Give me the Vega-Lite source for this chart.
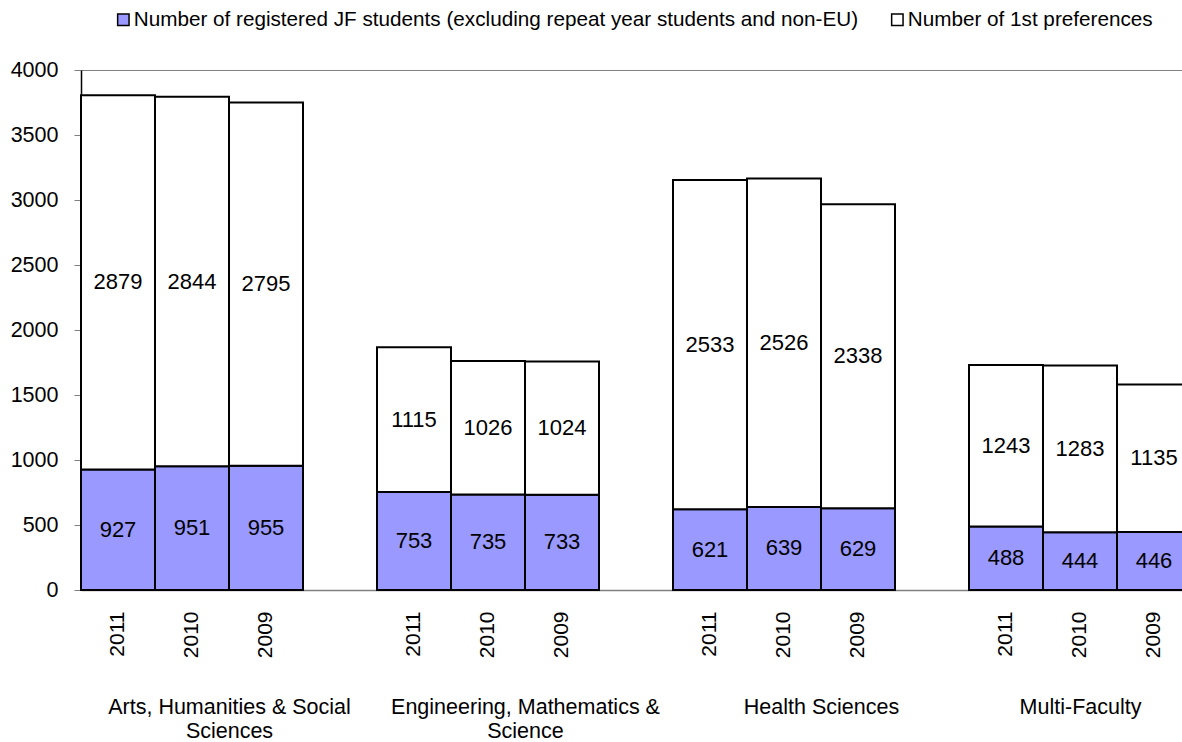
{
  "$schema": "https://vega.github.io/schema/vega-lite/v6.json",
  "autosize": "none",
  "width": 1101,
  "height": 520,
  "padding": {"left": 81, "top": 70, "right": 0, "bottom": 152},
  "background": "white",
  "config": {
    "font": "Liberation Sans",
    "view": {"stroke": "#808080", "strokeWidth": 1},
    "axis": {"labelColor": "black", "labelFont": "Liberation Sans", "labelFontSize": 21, "grid": false}
  },
  "datasets": {
    "rows": [
      {"group": "Arts, Humanities & Social Sciences", "year": "2011", "slot": "A2011", "series": "Number of registered JF students (excluding repeat year students and non-EU)", "value": 927},
      {"group": "Arts, Humanities & Social Sciences", "year": "2011", "slot": "A2011", "series": "Number of 1st preferences", "value": 2879},
      {"group": "Arts, Humanities & Social Sciences", "year": "2010", "slot": "A2010", "series": "Number of registered JF students (excluding repeat year students and non-EU)", "value": 951},
      {"group": "Arts, Humanities & Social Sciences", "year": "2010", "slot": "A2010", "series": "Number of 1st preferences", "value": 2844},
      {"group": "Arts, Humanities & Social Sciences", "year": "2009", "slot": "A2009", "series": "Number of registered JF students (excluding repeat year students and non-EU)", "value": 955},
      {"group": "Arts, Humanities & Social Sciences", "year": "2009", "slot": "A2009", "series": "Number of 1st preferences", "value": 2795},
      {"group": "Engineering, Mathematics & Science", "year": "2011", "slot": "E2011", "series": "Number of registered JF students (excluding repeat year students and non-EU)", "value": 753},
      {"group": "Engineering, Mathematics & Science", "year": "2011", "slot": "E2011", "series": "Number of 1st preferences", "value": 1115},
      {"group": "Engineering, Mathematics & Science", "year": "2010", "slot": "E2010", "series": "Number of registered JF students (excluding repeat year students and non-EU)", "value": 735},
      {"group": "Engineering, Mathematics & Science", "year": "2010", "slot": "E2010", "series": "Number of 1st preferences", "value": 1026},
      {"group": "Engineering, Mathematics & Science", "year": "2009", "slot": "E2009", "series": "Number of registered JF students (excluding repeat year students and non-EU)", "value": 733},
      {"group": "Engineering, Mathematics & Science", "year": "2009", "slot": "E2009", "series": "Number of 1st preferences", "value": 1024},
      {"group": "Health Sciences", "year": "2011", "slot": "H2011", "series": "Number of registered JF students (excluding repeat year students and non-EU)", "value": 621},
      {"group": "Health Sciences", "year": "2011", "slot": "H2011", "series": "Number of 1st preferences", "value": 2533},
      {"group": "Health Sciences", "year": "2010", "slot": "H2010", "series": "Number of registered JF students (excluding repeat year students and non-EU)", "value": 639},
      {"group": "Health Sciences", "year": "2010", "slot": "H2010", "series": "Number of 1st preferences", "value": 2526},
      {"group": "Health Sciences", "year": "2009", "slot": "H2009", "series": "Number of registered JF students (excluding repeat year students and non-EU)", "value": 629},
      {"group": "Health Sciences", "year": "2009", "slot": "H2009", "series": "Number of 1st preferences", "value": 2338},
      {"group": "Multi-Faculty", "year": "2011", "slot": "M2011", "series": "Number of registered JF students (excluding repeat year students and non-EU)", "value": 488},
      {"group": "Multi-Faculty", "year": "2011", "slot": "M2011", "series": "Number of 1st preferences", "value": 1243},
      {"group": "Multi-Faculty", "year": "2010", "slot": "M2010", "series": "Number of registered JF students (excluding repeat year students and non-EU)", "value": 444},
      {"group": "Multi-Faculty", "year": "2010", "slot": "M2010", "series": "Number of 1st preferences", "value": 1283},
      {"group": "Multi-Faculty", "year": "2009", "slot": "M2009", "series": "Number of registered JF students (excluding repeat year students and non-EU)", "value": 446},
      {"group": "Multi-Faculty", "year": "2009", "slot": "M2009", "series": "Number of 1st preferences", "value": 1135}
    ]
  },
  "data": {"name": "rows"},
  "resolve": {"scale": {"x": "independent"}},
  "layer": [
    {
      "mark": {"type": "bar", "stroke": "black", "strokeWidth": 2},
      "encoding": {
        "x": {
          "field": "slot", "type": "nominal", "sort": null,
          "scale": {"domain": ["A2011","A2010","A2009","g1","E2011","E2010","E2009","g2","H2011","H2010","H2009","g3","M2011","M2010","M2009"], "range": [0, 1110], "paddingInner": 0, "paddingOuter": 0},
          "axis": {"orient": "bottom", "title": null, "labelAngle": -90, "labelPadding": 21, "ticks": false, "domainColor": "#808080", "domainWidth": 1.5, "labelOverlap": false, "labelExpr": "length(datum.value) == 5 ? substring(datum.value, 1) : ''"}
        },
        "y": {
          "field": "value", "type": "quantitative", "stack": "zero",
          "scale": {"domain": [0, 4000], "nice": false},
          "axis": {"title": null, "format": "d", "values": [0,500,1000,1500,2000,2500,3000,3500,4000], "tickSize": 7, "tickColor": "#808080", "labelPadding": 16, "labelFontSize": 21.5, "domainColor": "black", "domainWidth": 1.5}
        },
        "color": {
          "field": "series", "type": "nominal",
          "scale": {"domain": ["Number of registered JF students (excluding repeat year students and non-EU)", "Number of 1st preferences"], "range": ["#9999FF", "#FFFFFF"]},
          "legend": {"orient": "none", "legendX": 32, "legendY": -61, "direction": "horizontal", "title": null, "symbolType": "square", "symbolSize": 130, "symbolStrokeColor": "black", "symbolStrokeWidth": 1.5, "labelFontSize": 20.7, "labelColor": "black", "labelOffset": 0, "columnPadding": 28, "labelLimit": 1000}
        },
        "order": {"field": "series", "sort": "descending"}
      }
    },
    {
      "mark": {"type": "text", "fontSize": 22, "color": "black", "baseline": "middle"},
      "encoding": {
        "x": {
          "field": "slot", "type": "nominal", "sort": null,
          "scale": {"domain": ["A2011","A2010","A2009","g1","E2011","E2010","E2009","g2","H2011","H2010","H2009","g3","M2011","M2010","M2009"], "range": [0, 1110], "paddingInner": 0, "paddingOuter": 0},
          "axis": {"orient": "bottom", "title": null, "labelAngle": 0, "labelPadding": 106, "labelBaseline": "top", "labelAlign": "center", "labelLineHeight": 24, "labelLimit": 400, "labelFontSize": 21.5, "domain": false, "ticks": false, "labelOverlap": false,
            "labelOffset": {"expr": "datum.value == 'M2010' ? 0 : 37"},
            "labelExpr": "datum.value == 'A2010' ? ['Arts, Humanities & Social', 'Sciences'] : datum.value == 'E2010' ? ['Engineering, Mathematics &', 'Science'] : datum.value == 'H2010' ? 'Health Sciences' : datum.value == 'M2010' ? 'Multi-Faculty' : ''"}
        },
        "y": {"field": "value", "type": "quantitative", "stack": "zero", "bandPosition": 0.5},
        "detail": {"field": "series"},
        "order": {"field": "series", "sort": "descending"},
        "text": {"field": "value", "type": "quantitative"}
      }
    }
  ]
}
